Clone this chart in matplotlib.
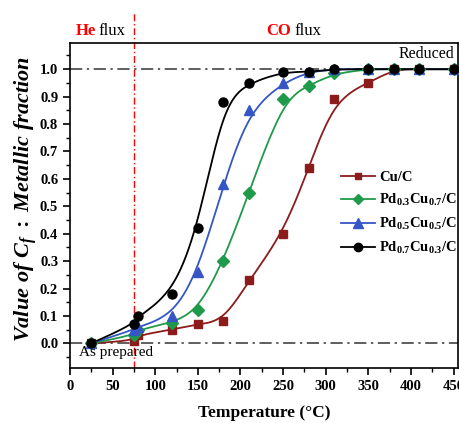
import numpy as np
import matplotlib
matplotlib.use("Agg")
from matplotlib import pyplot as plt
from matplotlib.ticker import MultipleLocator, FormatStrFormatter

plt.rcParams['font.family'] = ['Liberation Serif', 'DejaVu Serif']
plt.rcParams['mathtext.fontset'] = 'custom'
plt.rcParams['mathtext.rm'] = 'Liberation Serif:bold'
plt.rcParams['mathtext.it'] = 'Liberation Serif:italic:bold'
plt.rcParams['mathtext.bf'] = 'Liberation Serif:bold'

# temperatures (C)
temp = [25, 75, 80, 120, 150, 180, 210, 250, 280, 310, 350, 380, 410, 450]

cu_c     = [0, 0.01, 0.03, 0.05, 0.07, 0.08, 0.23, 0.40, 0.64, 0.89, 0.95, 1.0, 1.0, 1.0]
pd3cu7_c = [0, 0.03, 0.05, 0.075, 0.12, 0.30, 0.55, 0.89, 0.94, 0.985, 1.0, 1.0, 1.0, 1.0]
pd5cu5_c = [0, 0.05, 0.06, 0.10, 0.26, 0.58, 0.85, 0.95, 0.99, 1.0, 1.0, 1.0, 1.0, 1.0]
pd7cu3_c = [0, 0.07, 0.10, 0.18, 0.42, 0.88, 0.95, 0.99, 0.99, 1.0, 1.0, 1.0, 1.0, 1.0]

labels = ['Cu/C', r'Pd$_{0.3}$Cu$_{0.7}$/C', r'Pd$_{0.5}$Cu$_{0.5}$/C', r'Pd$_{0.7}$Cu$_{0.3}$/C']
colors = ['#8c1c1c', '#1f9a4a', '#3556c4', 'black']
markers = ['s', 'D', '^', 'o']
msizes = [5.5, 6, 7, 6.5]


def bspline(x, y, n=40):
    # uniform cubic B-spline using the points as control points (like Origin's B-spline line)
    px = np.r_[x[0], x[0], x, x[-1], x[-1]].astype(float)
    py = np.r_[y[0], y[0], y, y[-1], y[-1]].astype(float)
    t = np.linspace(0, 1, n)
    b0 = (1 - t)**3 / 6
    b1 = (3 * t**3 - 6 * t**2 + 4) / 6
    b2 = (-3 * t**3 + 3 * t**2 + 3 * t + 1) / 6
    b3 = t**3 / 6
    xs, ys = [], []
    for i in range(len(px) - 3):
        xs.append(b0 * px[i] + b1 * px[i + 1] + b2 * px[i + 2] + b3 * px[i + 3])
        ys.append(b0 * py[i] + b1 * py[i + 1] + b2 * py[i + 2] + b3 * py[i + 3])
    return np.concatenate(xs), np.concatenate(ys)


fig = plt.figure(figsize=(4.59, 4.23), dpi=100)
ax = fig.add_axes([0.1525, 0.13, 0.845, 0.768])

ax.axhline(0, color='#333333', lw=1.1, ls=(0, (8, 3, 1.5, 3)), zorder=1)
ax.axhline(1, color='#333333', lw=1.1, ls=(0, (8, 3, 1.5, 3)), zorder=1)
ax.axvline(75, ymin=0, ymax=1.095, color='red', lw=1, ls=(0, (5, 2, 1, 2)),
           clip_on=False, zorder=1)

series = [cu_c, pd3cu7_c, pd5cu5_c, pd7cu3_c]
for ys, c, mk, ms, lab in zip(series, colors, markers, msizes, labels):
    bx, by = bspline(temp, ys)
    ax.plot(bx, by, color=c, lw=1.3, zorder=2)
    ax.plot(temp, ys, ls='none', marker=mk, ms=ms, color=c, zorder=3)
    ax.plot([], [], color=c, lw=1.3, marker=mk, ms=ms - 0.5, label=lab)

ax.set_xlim(0, 455)
ax.set_ylim(-0.09, 1.095)
ax.xaxis.set_major_locator(MultipleLocator(50))
ax.xaxis.set_minor_locator(MultipleLocator(25))
ax.yaxis.set_major_locator(MultipleLocator(0.1))
ax.yaxis.set_minor_locator(MultipleLocator(0.05))
ax.yaxis.set_major_formatter(FormatStrFormatter('%.1f'))
ax.tick_params(which='major', direction='out', length=5, width=1.2, labelsize=10.5)
ax.tick_params(which='minor', direction='out', length=3, width=1)
for lb in ax.get_xticklabels() + ax.get_yticklabels():
    lb.set_fontweight('bold')
for s in ax.spines.values():
    s.set_linewidth(1.2)

ax.set_xlabel('Temperature (°C)', fontsize=12.5, fontweight='bold', labelpad=9)
ax.set_ylabel(r'$Value\ of\ C_{f}\ :\ Metallic\ fraction$', fontsize=16)
ax.yaxis.set_label_coords(-0.08, 0.52)

ax.text(30, 1.14, 'He', fontsize=12, color='red', fontweight='bold', ha='right',
        va='center', clip_on=False)
ax.text(33, 1.14, 'flux', fontsize=12, ha='left', va='center', clip_on=False)
ax.text(259, 1.14, 'CO', fontsize=12, color='red', fontweight='bold', ha='right',
        va='center', clip_on=False)
ax.text(263, 1.14, 'flux', fontsize=12, ha='left', va='center', clip_on=False)
ax.text(451, 1.055, 'Reduced', fontsize=11.5, ha='right', va='center')
ax.text(10, -0.035, 'As prepared', fontsize=11, ha='left', va='center')

leg = ax.legend(loc='center left', bbox_to_anchor=(0.665, 0.475), frameon=False,
                handlelength=2.3, labelspacing=0.55, handletextpad=0.3,
                prop={'weight': 'bold', 'size': 10.5})

fig.savefig('out.png', dpi=100)
